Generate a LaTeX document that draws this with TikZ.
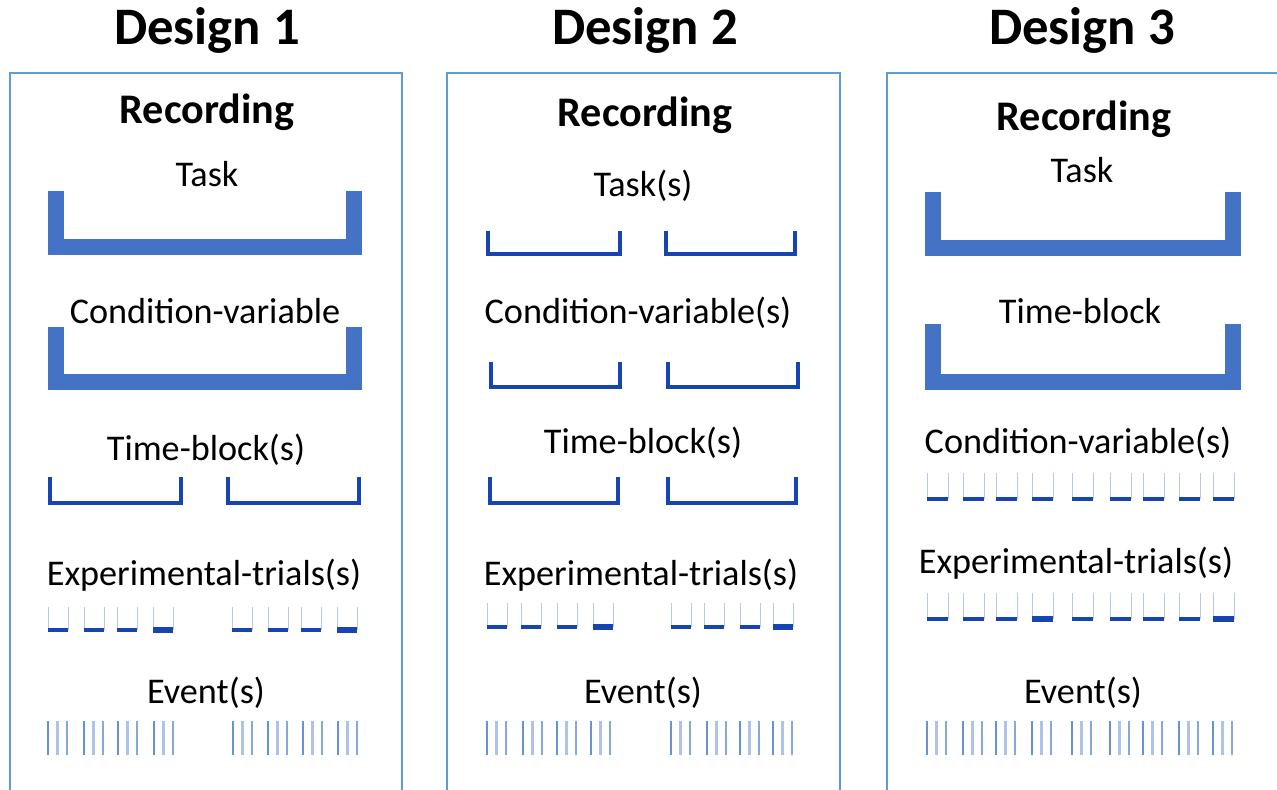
\documentclass[tikz,border=0pt]{standalone}
\usepackage{fontspec}
\setmainfont{Carlito}
\usetikzlibrary{positioning}

\definecolor{panelblue}{RGB}{95,155,213}
\definecolor{thickblue}{RGB}{68,114,196}
\definecolor{thinblue}{RGB}{22,68,178}
\definecolor{eventblue}{RGB}{105,145,215}

\tikzset{
  panel/.style={draw=panelblue, line width=1.2pt},
  title/.style={anchor=base, font=\fontsize{30}{32}\selectfont\bfseries},
  heading/.style={anchor=base, font=\fontsize{24}{26}\selectfont\bfseries},
  level/.style={anchor=base, font=\fontsize{20.6}{22}\selectfont},
  thickbr/.style={draw=thickblue, line width=9pt},
  thinbr/.style={draw=thinblue, line width=2.6pt},
  trialside/.style={draw=thinblue!30, line width=0.5pt},
  trialbar/.style={draw=thinblue, line width=2.4pt},
  eventline/.style={draw=eventblue, line width=1.3pt},
}

\begin{document}
\begin{tikzpicture}[x=0.02cm, y=-0.02cm]
    \useasboundingbox (0,0) rectangle (1277,790);
    \clip (0,0) rectangle (1277,790);

    % panels
    \draw[panel] (10,800) |- (402,73) -- (402,800);
    \draw[panel] (447,800) |- (840,73) -- (840,800);
    \draw[panel] (887,800) |- (1290,73);

    % titles
    \node[title] (design1) at (207,45) {Design 1};
    \node[title] (design2) at (645,45) {Design 2};
    \node[title] (design3) at (1082,45) {Design 3};

    \node[heading] (rec1) at (207,124) {Recording};
    \node[heading] (rec2) at (645,127) {Recording};
    \node[heading] (rec3) at (1084,131) {Recording};

    % design 1
    \node[level] (task1) at (207,187) {Task};
    \node[level] (cond1) at (205,323) {Condition-variable};
    \node[level] (time1) at (206,460) {Time-block(s)};
    \node[level] (trial1) at (204,585) {Experimental-trials(s)};
    \node[level] (event1) at (206,703) {Event(s)};

    \draw[thickbr] (56,191) -- (56,247) -- (354,247) -- (354,191);
    \draw[thickbr] (56,327) -- (56,382) -- (354,382) -- (354,327);
    \draw[thinbr] (50,477) |- (181,503) -- (181,477);
    \draw[thinbr] (228,477) |- (359,503) -- (359,477);

    \foreach \x/\w in {48/2.4, 84/2.4, 117/2.4, 153/3.6, 232/2.4, 268/2.4, 301/2.4, 337/3.6} {
        \draw[trialside] (\x,607) -- (\x,630) (\x+20,607) -- (\x+20,630);
        \draw[trialbar, line width=\w pt] (\x,630) -- (\x+20,630);
    }
    \foreach \x in {48, 84, 118, 154, 233, 268, 303, 338} {
        \draw[eventline] (\x,721) -- ++(0,34);
        \draw[eventline, opacity=.55] (\x+9.5,721) -- ++(0,34);
        \draw[eventline, opacity=.8] (\x+19,721) -- ++(0,34);
    }

    % design 2
    \node[level] (task2) at (643,197) {Task(s)};
    \node[level] (cond2) at (638,323) {Condition-variable(s)};
    \node[level] (time2) at (643,453) {Time-block(s)};
    \node[level] (trial2) at (641,585) {Experimental-trials(s)};
    \node[level] (event2) at (643,703) {Event(s)};

    \draw[thinbr] (488,231) |- (620,254) -- (620,231);
    \draw[thinbr] (666,231) |- (795,254) -- (795,231);
    \draw[thinbr] (491,362) |- (620,387) -- (620,362);
    \draw[thinbr] (668,362) |- (798,387) -- (798,362);
    \draw[thinbr] (490,477) |- (618,503) -- (618,477);
    \draw[thinbr] (668,477) |- (796,503) -- (796,477);

    \foreach \x/\w in {487/2.4, 521/2.4, 557/2.4, 593/3.6, 671/2.4, 704/2.4, 740/2.4, 773/3.6} {
        \draw[trialside] (\x,603) -- (\x,627) (\x+20,603) -- (\x+20,627);
        \draw[trialbar, line width=\w pt] (\x,627) -- (\x+20,627);
    }
    \foreach \x in {487, 523, 557, 591, 671, 707, 740, 773} {
        \draw[eventline] (\x,721) -- ++(0,34);
        \draw[eventline, opacity=.55] (\x+9.5,721) -- ++(0,34);
        \draw[eventline, opacity=.8] (\x+19,721) -- ++(0,34);
    }

    % design 3
    \node[level] (task3) at (1082,183) {Task};
    \node[level] (time3) at (1080,323) {Time-block};
    \node[level] (cond3) at (1078,453) {Condition-variable(s)};
    \node[level] (trial3) at (1076,573) {Experimental-trials(s)};
    \node[level] (event3) at (1083,703) {Event(s)};

    \draw[thickbr] (933,192) -- (933,248) -- (1233,248) -- (1233,192);
    \draw[thickbr] (933,324) -- (933,382) -- (1233,382) -- (1233,324);

    \foreach \x/\w in {927/2.6, 963/2.6, 996/2.6, 1032/2.2, 1072/2.6, 1110/2.6, 1143/2.6, 1179/2.6, 1213/2.2} {
        \draw[trialside] (\x,473) -- (\x,499) (\x+21,473) -- (\x+21,499);
        \draw[trialbar, line width=\w pt] (\x,499) -- (\x+21,499);
    }
    \foreach \x/\w in {927/2.2, 963/2.2, 996/2.2, 1032/3.4, 1072/2.2, 1110/2.2, 1143/2.2, 1179/2.2, 1213/3.4} {
        \draw[trialside] (\x,593) -- (\x,619) (\x+21,593) -- (\x+21,619);
        \draw[trialbar, line width=\w pt] (\x,619) -- (\x+21,619);
    }
    \foreach \x in {927, 963, 996, 1032, 1072, 1110, 1143, 1179, 1213} {
        \draw[eventline] (\x,721) -- ++(0,34);
        \draw[eventline, opacity=.55] (\x+9.5,721) -- ++(0,34);
        \draw[eventline, opacity=.8] (\x+19,721) -- ++(0,34);
    }
\end{tikzpicture}
\end{document}
